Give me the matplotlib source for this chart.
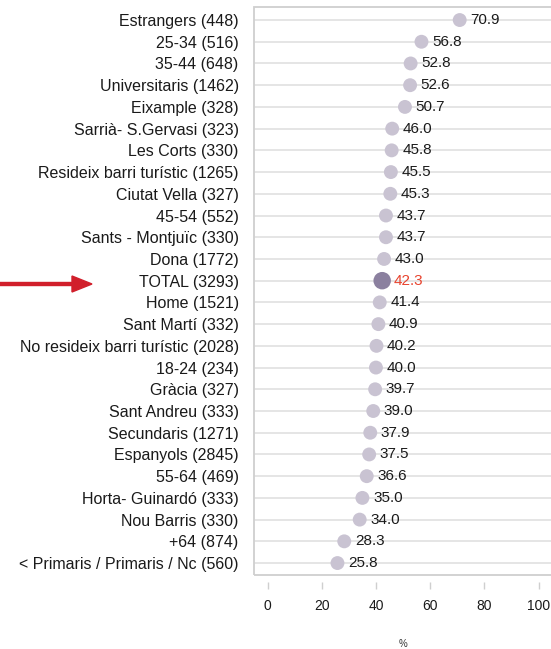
import matplotlib.pyplot as plt
from matplotlib.patches import Rectangle, FancyArrow

plt.rcParams['font.family'] = ['Liberation Sans', 'DejaVu Sans']

labels = [
    "Estrangers (448)", "25-34 (516)", "35-44 (648)", "Universitaris (1462)",
    "Eixample (328)", "Sarrià- S.Gervasi (323)", "Les Corts (330)",
    "Resideix barri turístic (1265)", "Ciutat Vella (327)", "45-54 (552)",
    "Sants - Montjuïc (330)", "Dona (1772)", "TOTAL (3293)", "Home (1521)",
    "Sant Martí (332)", "No resideix barri turístic (2028)", "18-24 (234)",
    "Gràcia (327)", "Sant Andreu (333)", "Secundaris (1271)", "Espanyols (2845)",
    "55-64 (469)", "Horta- Guinardó (333)", "Nou Barris (330)", "+64 (874)",
    "< Primaris / Primaris / Nc (560)",
]
values = [70.9, 56.8, 52.8, 52.6, 50.7, 46.0, 45.8, 45.5, 45.3, 43.7, 43.7,
          43.0, 42.3, 41.4, 40.9, 40.2, 40.0, 39.7, 39.0, 37.9, 37.5, 36.6,
          35.0, 34.0, 28.3, 25.8]
x_ticks = [0, 20, 40, 60, 80, 100]
highlight = "TOTAL (3293)"

dot_color = "#c9c3d2"
total_dot = "#8b809f"
total_text = "#e8432e"
grid_color = "#e3e3e3"
frame_color = "#cfcfcf"
text_color = "#1a1a1a"

fig = plt.figure(figsize=(5.51, 6.49), dpi=100)
ax = fig.add_axes([254 / 551, 1 - 575 / 649, 1 - 254 / 551 + 0.002, (575 - 7) / 649])

n = len(labels)
ys = list(range(n))
for y in ys:
    ax.axhline(y, color=grid_color, lw=1.3, zorder=1)

for y, lab, v in zip(ys, labels, values):
    is_total = lab == highlight
    ax.scatter(v, y, s=158 if is_total else 100,
               color=total_dot if is_total else dot_color,
               edgecolors='none', zorder=3)
    ax.text(v + (4.2 if is_total else 3.9), y, f"{v:.1f}", va='center', ha='left',
            fontsize=11, color=total_text if is_total else text_color, zorder=4)

ax.set_xlim(-5, 105)
ax.set_ylim(n - 0.45, -0.6)
ax.set_yticks(ys)
ax.set_yticklabels(labels, fontsize=11.5)
for t in ax.get_yticklabels():
    if t.get_text() == highlight:
        t.set_color(total_text)
ax.tick_params(axis='y', length=0, pad=11, colors=text_color)

ax.set_xticks(x_ticks)
ax.tick_params(axis='x', length=5, width=1, color=frame_color, pad=7,
               labelsize=10, labelcolor=text_color)
ax.set_xlabel("%", fontsize=7, labelpad=19, color="#333333")

for s in ax.spines.values():
    s.set_visible(False)
ax.spines['bottom'].set_position(('outward', 5))
ax.add_patch(Rectangle((0, 0), 1, 1, transform=ax.transAxes, fill=False,
                       edgecolor=frame_color, lw=1.3, clip_on=False, zorder=5))

# red arrow pointing at TOTAL row
fig.add_artist(FancyArrow(0, 1 - 284 / 649, 92 / 551, 0, width=3 / 649,
                          head_width=16 / 649, head_length=20 / 551,
                          length_includes_head=True, color="#d11f2b",
                          transform=fig.transFigure))

fig.savefig("out.png", dpi=100)
